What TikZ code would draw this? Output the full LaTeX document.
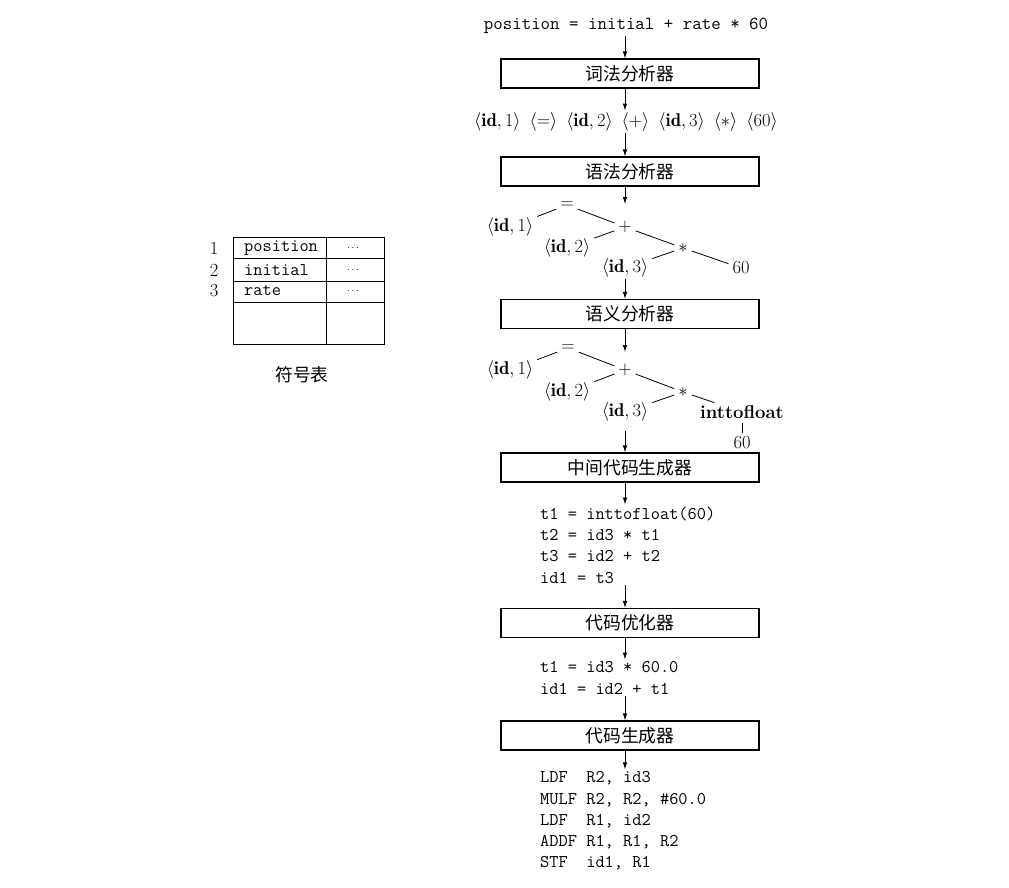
\RequirePackage{fix-cm}
\documentclass[tikz,border=0pt]{standalone}
\usepackage{fontspec}
\newfontfamily\cjk{Noto Sans CJK SC}
\usetikzlibrary{arrows.meta}
\newcommand{\tokgap}{\hspace{9pt}}
\begin{document}
\begin{tikzpicture}[x=1pt,y=-1pt,
  every node/.style={font=\fontsize{18.5}{21.3}\selectfont, inner sep=2pt},
  mono/.style={font=\fontsize{17.9}{21.3}\selectfont\ttfamily},
  cjkt/.style={font=\fontsize{17.8}{21.3}\selectfont\cjk},
  box/.style={draw, line width=1.1pt, minimum width=258pt, minimum height=29pt, inner sep=0pt, font=\fontsize{17.8}{21.3}\selectfont\cjk},
  arr/.style={-{Latex[length=7pt,width=4.5pt]}, line width=0.8pt},
  edge/.style={line width=0.8pt, shorten <=2pt, shorten >=2pt},
  code/.style={mono, align=left, anchor=west},
  dots/.style={font=\fontsize{10}{12}\selectfont}
]
\useasboundingbox[fill=white] (0,0) rectangle (1009,888);
\coordinate (ax) at (625,0);

% main column
\node[mono, font=\fontsize{18.4}{21.3}\selectfont\ttfamily] (src) at (626,26) {position = initial + rate * 60};
\node[box] (lex) at (630,73.5) {词法分析器};
\node (tok) at (626,122) {$\langle\mathbf{id},1\rangle\tokgap\langle=\rangle\tokgap\langle\mathbf{id},2\rangle\tokgap\langle+\rangle\tokgap\langle\mathbf{id},3\rangle\tokgap\langle*\rangle\tokgap\langle60\rangle$};
\node[box] (syn) at (630,171.5) {语法分析器};

% tree 1
\node (eqa) at (567,205) {$=$};
\node (plusa) at (625,227) {$+$};
\node (stara) at (683,248) {$*$};
\node (id1a) at (510,227) {$\langle\mathbf{id},1\rangle$};
\node (id2a) at (567,248) {$\langle\mathbf{id},2\rangle$};
\node (id3a) at (625,268) {$\langle\mathbf{id},3\rangle$};
\node (n60a) at (741,268) {60};
\draw[edge] (eqa) -- (id1a);
\draw[edge] (eqa) -- (plusa);
\draw[edge] (plusa) -- (id2a);
\draw[edge] (plusa) -- (stara);
\draw[edge] (stara) -- (id3a);
\draw[edge] (stara) -- (n60a);

\node[box] (sem) at (630,314) {语义分析器};

% tree 2
\node (eqb) at (568,348) {$=$};
\node (plusb) at (625,370) {$+$};
\node (starb) at (683,392) {$*$};
\node (id1b) at (510,370) {$\langle\mathbf{id},1\rangle$};
\node (id2b) at (567,392) {$\langle\mathbf{id},2\rangle$};
\node (id3b) at (625,412) {$\langle\mathbf{id},3\rangle$};
\node (itf) at (742,412) {\textbf{inttofloat}};
\node (n60b) at (742,443) {60};
\draw[edge] (eqb) -- (id1b);
\draw[edge] (eqb) -- (plusb);
\draw[edge] (plusb) -- (id2b);
\draw[edge] (plusb) -- (starb);
\draw[edge] (starb) -- (id3b);
\draw[edge] (starb) -- (itf);
\draw[edge] (itf) -- (n60b);

\node[box] (icg) at (630,467.5) {中间代码生成器};
\node[code] (c1) at (538,545) {t1 = inttofloat(60)\\t2 = id3 * t1\\t3 = id2 + t2\\id1 = t3};
\node[box] (opt) at (630,623) {代码优化器};
\node[code] (c2) at (538,678) {t1 = id3 * 60.0\\id1 = id2 + t1};
\node[box] (gen) at (630,735.5) {代码生成器};
\node[code] (c3) at (538,821) {LDF~~R2, id3\\MULF R2, R2, \#60.0\\LDF~~R1, id2\\ADDF R1, R1, R2\\STF~~id1, R1};

% arrows
\coordinate (t1top) at (625,204);
\coordinate (t2top) at (625,352);
\coordinate (t2bot) at (625,431);
\draw[arr] (src.south -| ax) -- (lex.north -| ax);
\draw[arr] (lex.south -| ax) -- (tok.north -| ax);
\draw[arr] (tok.south -| ax) -- (syn.north -| ax);
\draw[arr] (syn.south -| ax) -- (t1top);
\draw[arr] (id3a.south) -- (sem.north -| id3a);
\draw[arr] (sem.south -| ax) -- (t2top);
\draw[arr] (t2bot) -- (icg.north -| ax);
\draw[arr] (icg.south -| ax) -- (c1.north -| ax);
\draw[arr] (c1.south -| ax) -- (opt.north -| ax);
\draw[arr] (opt.south -| ax) -- (c2.north -| ax);
\draw[arr] (c2.south -| ax) -- (gen.north -| ax);
\draw[arr] (gen.south -| ax) -- (c3.north -| ax);

% symbol table
\draw[line width=0.8pt] (233,237) rectangle (384,344);
\draw[line width=0.8pt] (233,258) -- (384,258) (233,281) -- (384,281) (233,302) -- (384,302) (326,237) -- (326,344);
\node[mono,anchor=west] (s1) at (242,248) {position};
\node[mono,anchor=west] (s2) at (242,270) {initial};
\node[mono,anchor=west] (s3) at (242,291) {rate};
\node[dots] (d1) at (353,248) {$\cdots$};
\node[dots] (d2) at (353,270) {$\cdots$};
\node[dots] (d3) at (353,291) {$\cdots$};
\node (r1) at (214,248) {1};
\node (r2) at (214,270) {2};
\node (r3) at (214,291) {3};
\node[cjkt] (symlbl) at (302,375) {符号表};
\end{tikzpicture}
\end{document}
